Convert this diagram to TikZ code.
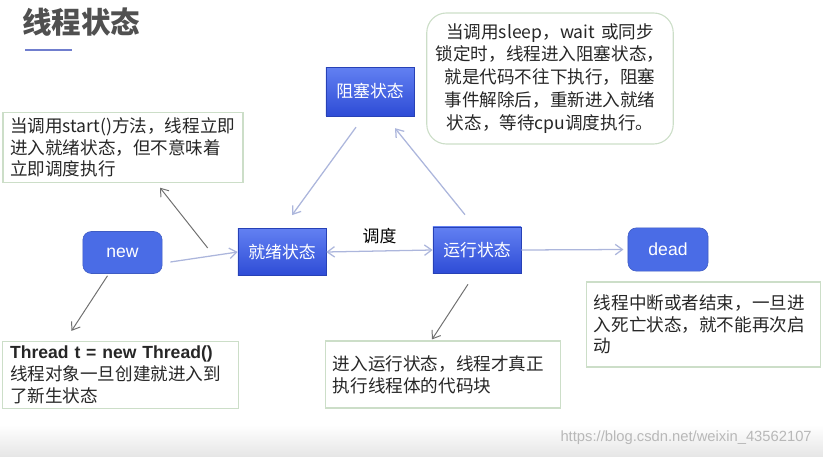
\documentclass[tikz,border=0pt]{standalone}
\usepackage{fontspec}
\setmainfont{Noto Sans CJK SC}
\newfontfamily\latinfont{Liberation Sans}
\usetikzlibrary{arrows.meta, positioning, calc}
\definecolor{cState}{RGB}{74,108,230}
\definecolor{cStateTop}{RGB}{98,128,242}
\definecolor{cStateBot}{RGB}{46,76,214}
\definecolor{cNote}{RGB}{204,222,200}
\definecolor{cLink}{RGB}{172,182,220}
\definecolor{cPtr}{RGB}{112,112,112}
\definecolor{cTitle}{RGB}{80,80,80}
\definecolor{cBar}{RGB}{112,126,206}
\tikzset{
	roundstate/.style={rectangle, rounded corners=6pt, minimum width=1.98cm, minimum height=1.05cm, draw=cState!85!black, fill=cState, text=white, font=\latinfont\fontsize{12.5}{14}\selectfont},
	state/.style     ={rectangle, minimum width=2.2cm, minimum height=1.18cm, draw=cStateBot!85!black, top color=cStateTop, bottom color=cStateBot, text=white, font=\fontsize{12}{14}\selectfont},
	note/.style      ={rectangle, draw=cNote, thick, align=left, inner xsep=0.18cm, text=black!85, font=\fontsize{12.5}{15.5}\selectfont},
	link/.style      ={-{Straight Barb[length=1.8mm, width=2.6mm]}, cLink, line width=0.9pt},
	ptr/.style       ={-{Straight Barb[length=1.8mm, width=2.6mm]}, cPtr, line width=0.7pt},
}
\begin{document}
\begin{tikzpicture}[x=0.025cm, y=-0.025cm]
	\useasboundingbox (0,0) rectangle (823,457);
	\fill[top color=white, bottom color=black!10] (0,425) rectangle (823,457);
	% title
	\node[anchor=west, inner sep=0pt, text=cTitle, font=\fontsize{21}{24}\selectfont\bfseries] (title) at (22,22) {线程状态};
	\draw[cBar, line width=1.4pt] (25,50) -- (72,50);
	% states
	\node[roundstate] (new) at (122.5,252.5) {new};
	\node[state] (ready) at (282,252) {就绪状态};
	\node[state, minimum height=1.15cm] (run) at (477,250) {运行状态};
	\node[state, minimum height=1.22cm] (block) at (370,91.5) {阻塞状态};
	\node[roundstate, minimum width=2cm, minimum height=1.08cm] (dead) at (668,249.5) {dead};
	% notes
	\node[note, text width=5.64cm, minimum height=1.675cm] (nstart) at (123,147.5)
		{当调用start()方法，线程立即\\进入就绪状态，但不意味着\\立即调度执行};
	\node[note, text width=5.52cm, minimum height=1.65cm] (nnew) at (120.5,375)
		{{\latinfont\bfseries Thread t = new Thread()}\\线程对象一旦创建就进入到\\了新生状态};
	\node[note, text width=5.5cm, minimum height=1.675cm] (nrun) at (443,374.5)
		{进入运行状态，线程才真正\\执行线程体的代码块};
	\node[note, text width=5.48cm, minimum height=2.125cm] (ndead) at (703.5,324.5)
		{线程中断或者结束，一旦进\\入死亡状态，就不能再次启\\动};
	\node[note, rounded corners=14pt, align=center, text width=5.8cm, minimum height=3.275cm, font=\fontsize{12.5}{16.3}\selectfont] (nblock) at (550,78.5)
		{当调用sleep，wait 或同步\\锁定时，线程进入阻塞状态，\\就是代码不往下执行，阻塞\\事件解除后，重新进入就绪\\状态，等待cpu调度执行。};
	% connectors
	\draw[link] ($(new.east)+(8,9.5)$) -- (ready.west);
	\draw[link, {Straight Barb[length=1.8mm, width=2.6mm]}-{Straight Barb[length=1.8mm, width=2.6mm]}] (ready.east) -- node[above=1pt, text=black, font=\fontsize{12}{14}\selectfont] (sched) {调度} (run.west);
	\draw[link, shorten >=3pt] (run.east) -- (dead.west);
	\draw[link] ($(block.south)+(-14,11)$) -- ($(ready.north)+(10,-13)$);
	\draw[link] ($(run.north)+(-12,-12)$) -- ($(block.south)+(25,12)$);
	\draw[ptr] ($(ready.west)+(-30,-4)$) -- ($(nstart.south)+(37,5)$);
	\draw[ptr] ($(new.south)+(-15,2)$) -- ($(nnew.north)+(-49,-10)$);
	\draw[ptr] ($(run.south)+(-9,11)$) -- ($(nrun.north)+(-11,-1)$);
	% watermark
	\node[anchor=east, inner sep=0pt, text=black!28, font=\latinfont\fontsize{10.5}{12}\selectfont] (mark) at (812,438) {https://blog.csdn.net/weixin\_43562107};
\end{tikzpicture}
\end{document}
